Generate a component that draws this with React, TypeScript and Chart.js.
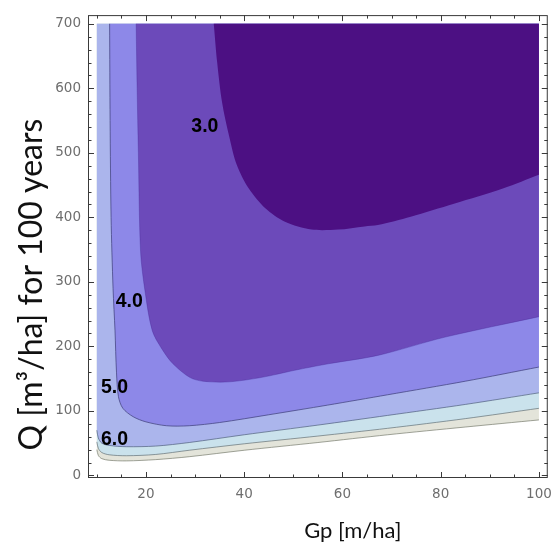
import React, { useEffect, useRef } from "react";
import { Chart, registerables } from "chart.js";

Chart.register(...registerables);

// Axis ticks
const gpTicks = [20, 40, 60, 80, 100];
const qTicks = [0, 100, 200, 300, 400, 500, 600, 700];
const gpMinorStep = 5;
const qMinorStep = 20;

// Data domain of the contour field
const GP_MIN = 10;
const GP_MAX = 100;
const Q_MAX = 700;

// Contour boundaries, innermost (lowest value) first
const boundA_gp = [33.8, 34.5, 35.5, 36.9, 38.5, 40.9, 44.3, 48.3, 53.7, 59.1, 64.5, 67.2, 73.9, 82.7, 92.8, 100];
const boundA_q = [700, 640, 578, 527, 481, 445, 414, 393, 381, 381, 386, 388, 401, 421, 445, 466];

const boundB_gp = [18.0, 18.2, 18.45, 18.9, 19.8, 21.3, 23.5, 25.5, 28.9, 31.6, 36.9, 43.6, 50.3, 57.1, 67.2, 80.7, 100];
const boundB_q = [700, 600, 501, 347, 286, 224, 193, 173, 152, 146, 145, 152, 163, 173, 186, 214, 246];

const boundC_gp = [12.6, 12.7, 12.9, 13.3, 13.7, 14.0, 14.4, 15.3, 17.4, 20.0, 24.2, 28.8, 35, 45, 57, 69.2, 85, 100];
const boundC_q = [700, 550, 400, 290, 224, 160, 122, 104, 91, 83, 77, 77, 82, 94, 109, 125, 146, 168];

const boundD_gp = [10, 10.3, 11, 12.5, 16, 22, 28.8, 40, 55, 69.2, 85, 100];
const boundD_q = [70, 58, 50, 46.5, 44.5, 45.5, 51, 63, 78, 93, 110, 128];

const boundE_gp = [10, 10.3, 11, 12.5, 16, 22, 28.8, 40, 55, 69.2, 85, 100];
const boundE_q = [52, 42, 35.5, 32, 30.5, 32.5, 39, 49, 61, 73, 88, 104];

const boundF_gp = [10, 10.3, 11, 12.5, 16, 22, 28.8, 40, 55, 69.2, 85, 100];
const boundF_q = [40, 31, 26, 23.5, 22.5, 24.5, 29, 39, 51, 63, 75, 86];

// Contour value labels
const labelText = ["3.0", "4.0", "5.0", "6.0"];
const labelGp = [32.0, 16.6, 13.6, 13.6];
const labelQ = [541, 270, 136, 56];

const xTitle = "Gp [m/ha]";
const yTitle = "Q [m³/ha] for 100 years";

type Pt = { x: number; y: number };

function curvePoints(gp: number[], q: number[]): Pt[] {
  return gp.map((g, i) => ({ x: g, y: q[i] }));
}

// Closed shape: region above/right of a boundary, clipped to the data domain.
// Corner points are doubled so the spline keeps them sharp.
function regionPoints(gp: number[], q: number[]): Pt[] {
  const pts: Pt[] = [];
  const curve = curvePoints(gp, q);
  if (curve[0].y < Q_MAX) {
    pts.push({ x: curve[0].x, y: Q_MAX });
    pts.push(curve[0]);
  }
  pts.push(...curve);
  const last = curve[curve.length - 1];
  pts.push({ ...last });
  pts.push({ x: GP_MAX, y: Q_MAX });
  return pts;
}

const fills = [
  { gp: boundA_gp, q: boundA_q, color: "#4c1083" },
  { gp: boundB_gp, q: boundB_q, color: "#6c4aba" },
  { gp: boundC_gp, q: boundC_q, color: "#8d88e8" },
  { gp: boundD_gp, q: boundD_q, color: "#abb5ec" },
  { gp: boundE_gp, q: boundE_q, color: "#cae2ec" },
  { gp: boundF_gp, q: boundF_q, color: "#e3e4da" },
];

const lines = [
  { gp: boundB_gp, q: boundB_q, color: "rgba(70,40,150,0.35)" },
  { gp: boundC_gp, q: boundC_q, color: "rgba(60,60,120,0.7)" },
  { gp: boundD_gp, q: boundD_q, color: "rgba(80,95,125,0.7)" },
  { gp: boundE_gp, q: boundE_q, color: "rgba(90,105,110,0.65)" },
  { gp: boundF_gp, q: boundF_q, color: "rgba(110,115,100,0.65)" },
];

const frameTicksPlugin = {
  id: "frameTicks",
  afterDraw(chart: any) {
    const { ctx, chartArea: a, scales } = chart;
    const xs = scales.x;
    const ys = scales.y;
    ctx.save();
    ctx.strokeStyle = "#3a3a3a";
    ctx.lineWidth = 1;
    ctx.strokeRect(a.left + 0.5, a.top + 0.5, a.right - a.left - 1, a.bottom - a.top - 1);
    ctx.beginPath();
    for (let v = GP_MIN; v <= GP_MAX + 1e-6; v += gpMinorStep) {
      const major = gpTicks.includes(v);
      const len = major ? 6 : 3.5;
      const px = Math.round(xs.getPixelForValue(v)) + 0.5;
      ctx.moveTo(px, a.bottom);
      ctx.lineTo(px, a.bottom - len);
      ctx.moveTo(px, a.top);
      ctx.lineTo(px, a.top + len);
    }
    for (let v = 0; v <= Q_MAX + 1e-6; v += qMinorStep) {
      const major = qTicks.includes(v);
      const len = major ? 6 : 3.5;
      const py = Math.round(ys.getPixelForValue(v)) + 0.5;
      ctx.moveTo(a.left, py);
      ctx.lineTo(a.left + len, py);
      ctx.moveTo(a.right, py);
      ctx.lineTo(a.right - len, py);
    }
    ctx.stroke();
    ctx.restore();
  },
};

const contourLabelPlugin = {
  id: "contourLabels",
  afterDatasetsDraw(chart: any) {
    const { ctx, scales } = chart;
    ctx.save();
    ctx.fillStyle = "#000";
    ctx.font = "bold 19.5px 'Liberation Sans', Arial, sans-serif";
    ctx.textAlign = "center";
    ctx.textBaseline = "middle";
    labelText.forEach((t, i) => {
      ctx.fillText(t, scales.x.getPixelForValue(labelGp[i]), scales.y.getPixelForValue(labelQ[i]));
    });
    ctx.restore();
  },
};

const axisTitlePlugin = {
  id: "axisTitles",
  afterDraw(chart: any) {
    const { ctx, chartArea: a } = chart;
    ctx.save();
    ctx.fillStyle = "#111";
    ctx.textAlign = "center";
    ctx.textBaseline = "alphabetic";
    ctx.font = "22px Lato, 'Open Sans', sans-serif";
    ctx.fillText(xTitle, (a.left + a.right) / 2 + 35, 538);
    ctx.translate(42, (a.top + a.bottom) / 2 + 38);
    ctx.rotate(-Math.PI / 2);
    ctx.font = "32px Lato, 'Open Sans', sans-serif";
    ctx.fillText(yTitle, 0, 0);
    ctx.restore();
  },
};

export default function App() {
  const ref = useRef<HTMLCanvasElement | null>(null);

  useEffect(() => {
    if (!ref.current) return;
    const datasets: any[] = [];
    fills.forEach((f) => {
      datasets.push({
        data: regionPoints(f.gp, f.q),
        showLine: true,
        fill: "shape",
        backgroundColor: f.color,
        borderWidth: 0,
        borderColor: "rgba(0,0,0,0)",
        pointRadius: 0,
        tension: 0.3,
      });
    });
    lines.forEach((l) => {
      datasets.push({
        data: curvePoints(l.gp, l.q),
        showLine: true,
        fill: false,
        borderColor: l.color,
        borderWidth: 1,
        pointRadius: 0,
        tension: 0.3,
        order: -1,
      });
    });

    const chart = new Chart(ref.current, {
      type: "scatter",
      data: { datasets },
      options: {
        responsive: false,
        animation: false,
        layout: { padding: { top: 12, right: 10, left: 0, bottom: 0 } },
        plugins: { legend: { display: false }, tooltip: { enabled: false } },
        scales: {
          x: {
            type: "linear",
            min: 8.2,
            max: 101.8,
            afterBuildTicks: (s: any) => {
              s.ticks = gpTicks.map((v) => ({ value: v }));
            },
            afterFit: (s: any) => {
              s.height = 66;
            },
            grid: { display: false, drawTicks: false },
            border: { display: false },
            ticks: {
              color: "#6e6e6e",
              font: { family: "'DejaVu Sans'", size: 13.5 },
              padding: 8,
              maxRotation: 0,
            },
          },
          y: {
            type: "linear",
            min: -4,
            max: 713.5,
            afterBuildTicks: (s: any) => {
              s.ticks = qTicks.map((v) => ({ value: v }));
            },
            afterFit: (s: any) => {
              s.width = 88;
            },
            grid: { display: false, drawTicks: false },
            border: { display: false },
            ticks: {
              color: "#6e6e6e",
              font: { family: "'DejaVu Sans'", size: 13.5 },
              padding: 7,
            },
          },
        },
      },
      plugins: [frameTicksPlugin, contourLabelPlugin, axisTitlePlugin],
    } as any);
    return () => chart.destroy();
  }, []);

  return (
    <canvas
      ref={ref}
      width={560}
      height={544}
      style={{ position: "absolute", left: 0, top: 0, display: "block" }}
    />
  );
}
